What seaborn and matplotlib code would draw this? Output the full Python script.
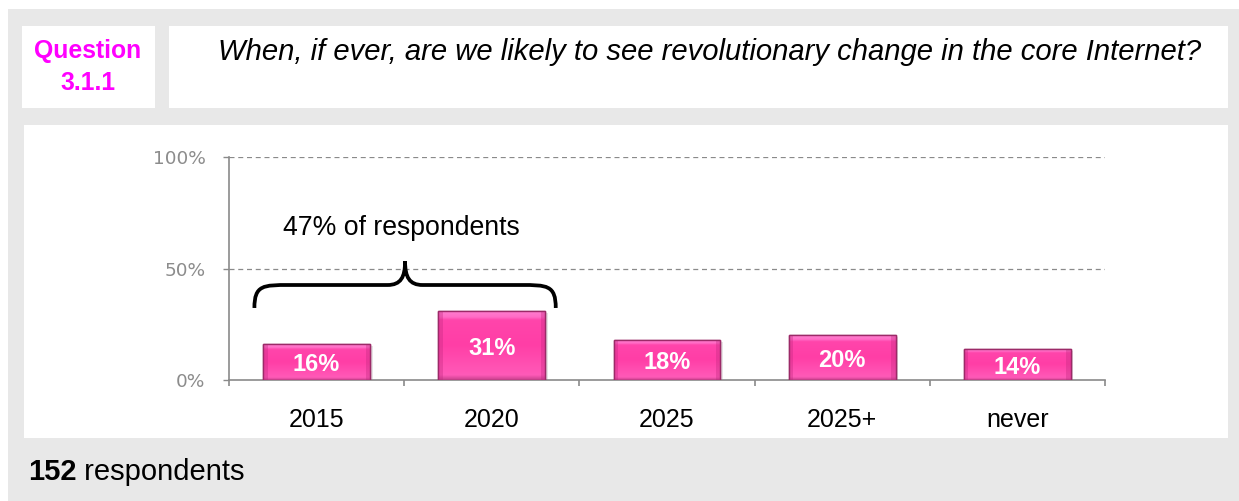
import numpy as np
import pandas as pd
import matplotlib
matplotlib.use("Agg")
import matplotlib.pyplot as plt
import seaborn as sns
from matplotlib.patches import Rectangle, PathPatch
from matplotlib.path import Path
from matplotlib.colors import LinearSegmentedColormap

# ---- data ----
categories = ["2015", "2020", "2025", "2025+", "never"]
shares = [16, 31, 18, 20, 14]
value_labels = ["16%", "31%", "18%", "20%", "14%"]
y_ticks = [0, 50, 100]
y_tick_labels = ["0%", "50%", "100%"]
question_id = "Question\n3.1.1"
question_text = "When, if ever, are we likely to see revolutionary change in the core Internet?"
brace_text = "47% of respondents"
n_respondents = "152"

df = pd.DataFrame({"category": categories, "share": shares})

W, H = 1239, 501
sns.set_theme(style="white")
plt.rcParams["font.family"] = ["Liberation Sans", "DejaVu Sans"]

fig = plt.figure(figsize=(W / 100, H / 100), dpi=100, facecolor="white")


def frect(x0, y0, x1, y1, color):
    fig.patches.append(Rectangle((x0 / W, 1 - y1 / H), (x1 - x0) / W, (y1 - y0) / H,
                                 transform=fig.transFigure, facecolor=color,
                                 edgecolor="none", zorder=-5))


GREY = "#e8e8e8"
frect(8, 9, W, H, GREY)
frect(22, 26, 155, 108, "white")
frect(169, 26, 1228, 108, "white")
frect(24, 125, 1228, 438, "white")

fig.text(88 / W, 1 - 67 / H, question_id, ha="center", va="center",
         color="#ff00ff", fontsize=17.8, fontweight="bold", linespacing=1.4)
fig.text(218 / W, 1 - 52 / H, question_text, ha="left", va="center",
         color="black", fontsize=21.1, fontstyle="italic")

# ---- axes ----
ax = fig.add_axes([229 / W, 1 - 380 / H, (1105 - 229) / W, (380 - 157) / H])
ax.set_facecolor("none")
sns.barplot(data=df, x="category", y="share", ax=ax, color="#ff40a8",
            width=0.61, edgecolor="#9c2a68", linewidth=1.0, saturation=1, zorder=3)
ax.set_xlim(-0.5, len(categories) - 0.5)
ax.set_ylim(0, 100)
ax.set_xlabel("")
ax.set_ylabel("")

# gradient fill clipped to each bar (glossy bevel look)
cmap_v = LinearSegmentedColormap.from_list(
    "pinkbar", [(0.0, "#c8408c"), (0.07, "#ff5ab8"), (0.5, "#ff3ea6"),
                (0.86, "#ff45ab"), (0.9, "#ff6cc6"), (1.0, "#ff80d0")])
grad = np.linspace(0, 1, 256).reshape(-1, 1)
for p in list(ax.patches):
    x0, y0 = p.get_x(), p.get_y()
    w, h = p.get_width(), p.get_height()
    sh = Rectangle((x0 + 0.015, y0 - 0.8), w, h, facecolor="#000000", alpha=0.10,
                   edgecolor="none", zorder=2)
    ax.add_patch(sh)
    im = ax.imshow(grad, cmap=cmap_v, origin="lower", aspect="auto",
                   extent=(x0, x0 + w, y0, y0 + h), zorder=3.5, interpolation="bicubic")
    im.set_clip_path(p)
    # darker side bevels
    for sx in (x0, x0 + w - 0.025):
        ax.add_patch(Rectangle((sx, y0), 0.025, h, facecolor="#c0287f", alpha=0.35,
                               edgecolor="none", zorder=3.6))
    ax.add_patch(Rectangle((x0, y0), w, h, facecolor="none", edgecolor="#9c2a68",
                           linewidth=1.0, zorder=3.7))
ax.set_xlim(-0.5, len(categories) - 0.5)
ax.set_ylim(0, 100)

for cont in ax.containers:
    ax.bar_label(cont, labels=value_labels, label_type="center", color="white",
                 fontsize=17, fontweight="bold", zorder=6, padding=-2)

# grid
for yv in y_ticks[1:]:
    ax.axhline(yv, color="#8a8a8a", linewidth=0.9, linestyle=(0, (4, 3)), zorder=1)

for s in ["top", "right"]:
    ax.spines[s].set_visible(False)
for s in ["left", "bottom"]:
    ax.spines[s].set_color("#8a8a8a")
    ax.spines[s].set_linewidth(1.2)

ax.set_yticks(y_ticks)
ax.set_yticklabels(y_tick_labels, color="#8c8c8c", fontsize=13.3,
                   family=["DejaVu Sans"])
ax.tick_params(axis="y", which="major", left=True, length=4.5, width=1.0,
               color="#8a8a8a", pad=12.5, direction="out")
ax.set_xticks(range(len(categories)))
ax.set_xticklabels(categories, fontsize=18, color="black")
ax.tick_params(axis="x", which="major", bottom=False, length=0, pad=20.5)
ax.set_xticks(np.arange(-0.5, len(categories), 1.0), minor=True)
ax.tick_params(axis="x", which="minor", bottom=True, length=4.5, width=1.2,
               color="#8a8a8a", direction="out")

# brace over the first two categories
c = 0.505
half = 0.86
y_end, y_arm, y_tip = 32.3, 42.6, 53.2
xl, xr = c - half, c + half
verts = [
    (xl, y_end), (xl, y_arm), (xl + 0.05, y_arm), (xl + 0.2, y_arm),
    (c - 0.1, y_arm),
    (c - 0.025, y_arm), (c, y_arm + 3.5), (c, y_tip),
    (c, y_arm + 3.5), (c + 0.025, y_arm), (c + 0.1, y_arm),
    (xr - 0.2, y_arm),
    (xr - 0.05, y_arm), (xr, y_arm), (xr, y_end),
]
codes = [Path.MOVETO, Path.CURVE4, Path.CURVE4, Path.CURVE4,
         Path.LINETO,
         Path.CURVE4, Path.CURVE4, Path.CURVE4,
         Path.CURVE4, Path.CURVE4, Path.CURVE4,
         Path.LINETO,
         Path.CURVE4, Path.CURVE4, Path.CURVE4]
ax.add_patch(PathPatch(Path(verts, codes), facecolor="none", edgecolor="black",
                       linewidth=2.7, capstyle="butt", joinstyle="miter",
                       zorder=6, clip_on=False))
ax.text(c - 0.02, 68.3, brace_text, ha="center", va="center", fontsize=19.2,
        color="black", zorder=6)

# footer
fig.canvas.draw()
r = fig.canvas.get_renderer()
t1 = fig.text(28 / W, 1 - 472 / H, n_respondents, ha="left", va="center",
              fontsize=21, fontweight="bold", color="black")
bb = t1.get_window_extent(renderer=r)
fig.text(bb.x1 / W, 1 - 472 / H, " respondents", ha="left", va="center",
         fontsize=21, color="black")

fig.savefig("out.png", dpi=100, facecolor="white")
